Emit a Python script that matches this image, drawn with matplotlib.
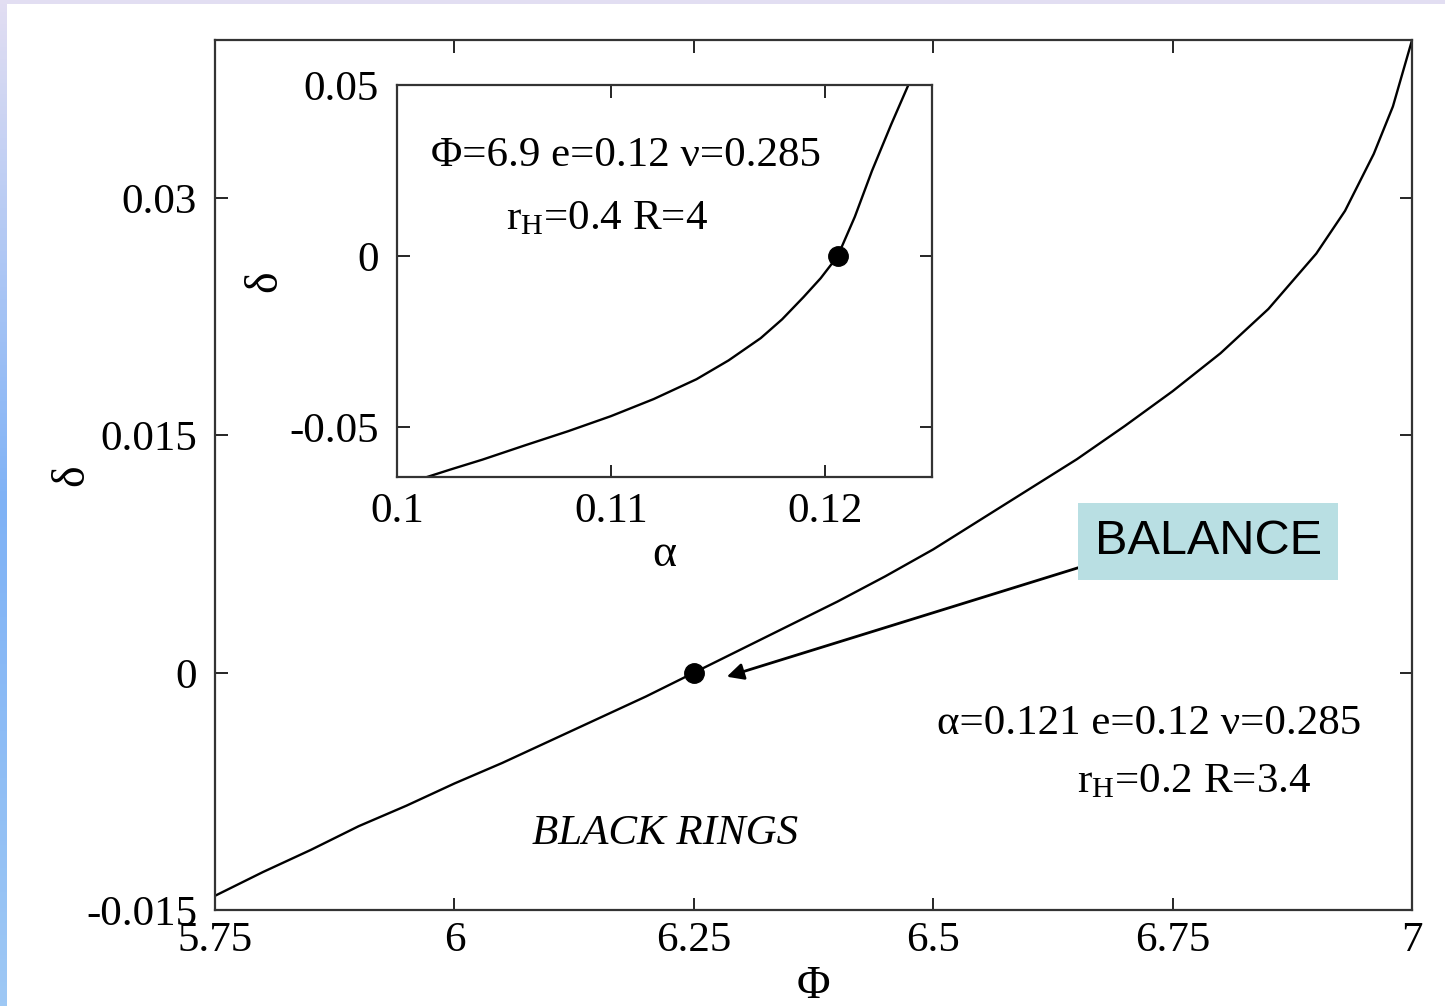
import numpy as np
import matplotlib
matplotlib.use("Agg")
import matplotlib.pyplot as plt

plt.rcParams['font.family'] = ['Liberation Serif', 'DejaVu Serif']
plt.rcParams['mathtext.fontset'] = 'custom'
plt.rcParams['mathtext.rm'] = 'Liberation Serif'
plt.rcParams['mathtext.it'] = 'Liberation Serif:italic'

# --- données ---
# courbe principale : delta en fonction de Phi
phi = [5.75, 5.80, 5.85, 5.90, 5.95, 6.0, 6.05, 6.10, 6.15, 6.20, 6.25, 6.30,
       6.35, 6.40, 6.45, 6.50, 6.55, 6.60, 6.65, 6.70, 6.75, 6.80, 6.85, 6.90,
       6.93, 6.96, 6.98, 7.0]
delta = [-0.0141, -0.0126, -0.0112, -0.0097, -0.0084, -0.0070, -0.0057, -0.0043,
         -0.0029, -0.0015, 0.0, 0.0015, 0.0030, 0.0045, 0.0061, 0.0078, 0.0097,
         0.0116, 0.0135, 0.0156, 0.0178, 0.0202, 0.0230, 0.0265, 0.0292, 0.0328,
         0.0358, 0.0400]
phi_bal, delta_bal = [6.25], [0.0]

# encart : delta en fonction de alpha
alpha = [0.1012, 0.1025, 0.104, 0.106, 0.108, 0.110, 0.112, 0.114, 0.1155,
         0.117, 0.118, 0.119, 0.1198, 0.1206, 0.1214, 0.1222, 0.1231, 0.1239]
delta_in = [-0.065, -0.0624, -0.0595, -0.0553, -0.0512, -0.0468, -0.0418, -0.0360,
            -0.0305, -0.0240, -0.0185, -0.0120, -0.0065, 0.0, 0.0115, 0.0249,
            0.0385, 0.05]
alpha_bal, delta_in_bal = [0.1206], [0.0]

main_xticks = [5.75, 6, 6.25, 6.5, 6.75, 7]
main_xlabels = ['5.75', '6', '6.25', '6.5', '6.75', '7']
main_yticks = [-0.015, 0, 0.015, 0.03]
main_ylabels = ['-0.015', '0', '0.015', '0.03']
in_xticks = [0.1, 0.11, 0.12]
in_xlabels = ['0.1', '0.11', '0.12']
in_yticks = [-0.05, 0, 0.05]
in_ylabels = ['-0.05', '0', '0.05']

FS = 31

fig = plt.figure(figsize=(14.45, 10.06), dpi=100)

# bandes de fond de la diapositive
top = fig.add_axes([0, 1 - 4 / 1006, 1, 4 / 1006])
top.set_axis_off()
top.add_patch(plt.Rectangle((0, 0), 1, 1, color='#e2def2', transform=top.transAxes))
side = fig.add_axes([0, 0, 7 / 1445, 1])
side.set_axis_off()
grad = np.linspace(0, 1, 256).reshape(-1, 1)
cmap = matplotlib.colors.LinearSegmentedColormap.from_list('s', ['#e2def2', '#7fb2f6', '#9ec8f4'])
side.imshow(grad, aspect='auto', cmap=cmap, extent=[0, 1, 1, 0])

ax = fig.add_axes([0.1488, 0.0954, 0.8284, 0.8648])
ax.plot(phi, delta, color='black', lw=1.7)
ax.plot(phi_bal, delta_bal, 'o', color='black', ms=14)
ax.set_xlim(5.75, 7)
ax.set_ylim(-0.015, 0.04)
ax.set_xticks(main_xticks, main_xlabels)
ax.set_yticks(main_yticks, main_ylabels)
ax.tick_params(direction='in', top=True, right=True, length=9, width=1.2,
               labelsize=FS)
ax.tick_params(axis='y', pad=13)
ax.tick_params(axis='x', pad=8)
for s in ax.spines.values():
    s.set_linewidth(1.6)
    s.set_color('#333333')
ax.set_xlabel('Φ', fontsize=33, labelpad=4)
ax.set_ylabel('δ', fontsize=33, labelpad=-5)

ax.text(6.22, -0.0102, 'BLACK RINGS', fontsize=FS, style='italic', ha='center', va='center')
ax.text(6.725, -0.0032, 'α=0.121 e=0.12 ν=0.285', fontsize=FS, ha='center', va='center')
ax.text(6.772, -0.0069, r'r$_{\rm H}$=0.2 R=3.4', fontsize=FS, ha='center', va='center')

ax.annotate('BALANCE', xy=(6.2844, -0.00025), xytext=(6.787, 0.0083),
            fontsize=35, family='Liberation Sans', ha='center', va='center',
            bbox=dict(boxstyle='square,pad=0.33', fc='#b9dfe3', ec='none'),
            arrowprops=dict(arrowstyle='-|>', color='black', lw=2,
                            mutation_scale=25, shrinkA=0, shrinkB=0,
                            relpos=(0.065, 0.13)))

ins = fig.add_axes([0.2747, 0.5258, 0.3702, 0.3897])
ins.plot(alpha, delta_in, color='black', lw=1.7)
ins.plot(alpha_bal, delta_in_bal, 'o', color='black', ms=14)
ins.set_xlim(0.1, 0.125)
ins.set_ylim(-0.0646, 0.05)
ins.set_xticks(in_xticks, in_xlabels)
ins.set_yticks(in_yticks, in_ylabels)
ins.tick_params(direction='in', top=True, right=True, length=9, width=1.2,
                labelsize=FS)
ins.tick_params(axis='y', pad=13)
ins.tick_params(axis='x', pad=11)
for s in ins.spines.values():
    s.set_linewidth(1.6)
    s.set_color('#333333')
ins.set_xlabel('α', fontsize=33, labelpad=2)
ins.set_ylabel('δ', fontsize=33, labelpad=2)
ins.text(0.1107, 0.0292, 'Φ=6.9 e=0.12 ν=0.285', fontsize=FS, ha='center', va='center')
ins.text(0.1098, 0.0108, r'r$_{\rm H}$=0.4 R=4', fontsize=FS, ha='center', va='center')

fig.savefig('out.png', dpi=100)
